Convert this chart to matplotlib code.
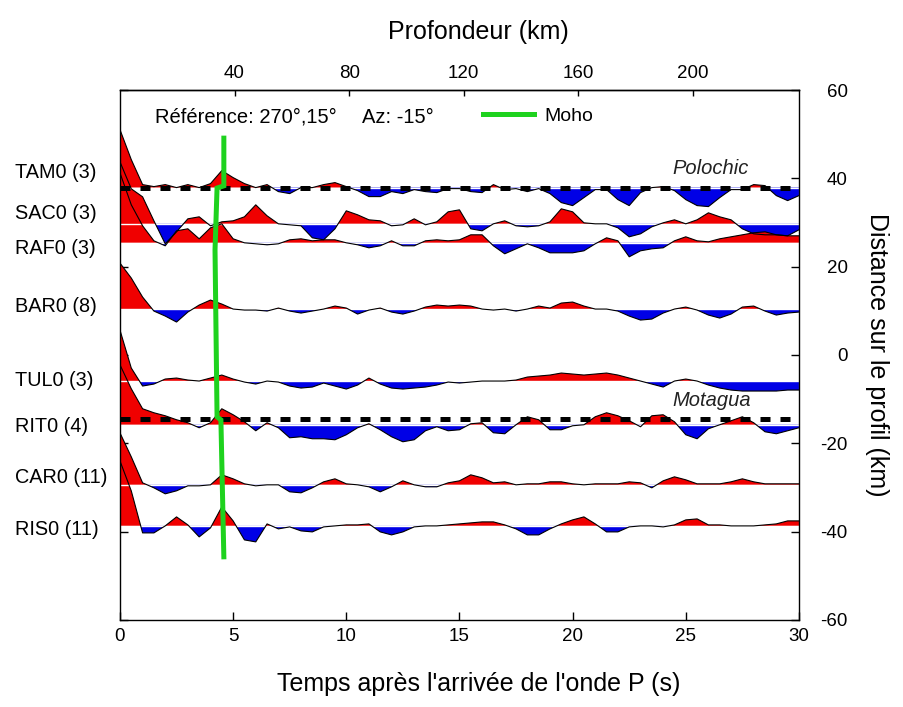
import numpy as np
import matplotlib
matplotlib.use("Agg")
import matplotlib.pyplot as plt
from matplotlib.lines import Line2D
from matplotlib.transforms import blended_transform_factory

plt.rcParams['font.family'] = ['Liberation Sans', 'DejaVu Sans']
plt.rcParams['axes.unicode_minus'] = False

# ---------------------------------------------------------------- data
time_step = 0.5          # s between amplitude samples
depth_per_second = 7.9   # km of depth per second of delay (top axis)

stations = ["TAM0 (3)", "SAC0 (3)", "RAF0 (3)", "BAR0 (8)",
            "TUL0 (3)", "RIT0 (4)", "CAR0 (11)", "RIS0 (11)"]
# position of each station along the profile (km)
baselines = [37.9, 29.7, 25.4, 10.4, -5.9, -15.8, -29.4, -38.7]

# stacked receiver-function amplitudes (arbitrary units), 0 to 30 s
tam0 = [58, 28, 3, 1, 3, 0, 3, 0, 4, 17,
        10, 4, 0, 3, -4, -6, 0, 0, 3, 5,
        1, -3, -9, -9, -4, -6, -2, -4, -5, -1,
        -1, -4, -5, 3, -2, -1, -4, -1, -6, -15,
        -18, -10, -2, -2, -12, -18, -5, 0, 1, -3,
        -12, -18, -19, -10, -2, -2, 3, 2, -8, -13,
        -8]
sac0 = [62, 35, 27, 3, -20, -8, 5, 7, -2, 2,
        3, 7, 19, 8, 0, -1, -2, -14, -16, -5,
        13, 9, 4, 3, -2, -1, 5, -1, 2, 12,
        14, -5, -7, 0, 3, -2, -3, -2, 2, 15,
        12, 1, 0, 0, -4, -13, -10, -3, 1, 4,
        0, 4, 11, 7, 4, -5, -10, -11, -11, -12,
        -6]
raf0 = [70, 38, 17, 2, -3, 12, 14, 4, 15, 19,
        4, 0, -1, -2, -1, 3, 4, 2, 3, 3,
        0, -2, -5, -3, 2, -3, -3, 2, 3, 2,
        3, 8, 8, -3, -11, -6, -1, -5, -10, -10,
        -10, -8, -1, 5, 2, -14, -8, -6, -5, 2,
        6, 2, 1, 4, 6, 8, 10, 11, 8, 7,
        7]
bar0 = [46, 31, 12, -2, -7, -13, -3, 4, 9, 5,
        0, -1, -1, -2, 1, -2, -4, -2, 0, 3,
        1, -5, -1, 1, -3, -5, -2, 2, 4, 3,
        4, 3, 0, -1, 0, -2, 0, 3, 1, 6,
        7, 3, 0, 0, -2, -7, -11, -10, -4, 0,
        2, -1, -6, -9, -5, 2, 3, -2, -6, -4,
        -3]
tul0 = [51, 13, -5, -3, 2, 3, 1, 0, 3, 6,
        2, -1, -3, 0, -1, -5, -7, -6, -2, -5,
        -8, -4, 3, -3, -7, -8, -7, -6, -4, -1,
        -2, -1, 0, 0, 0, 1, 4, 5, 6, 8,
        7, 6, 7, 8, 6, 3, 0, -3, -6, 0,
        2, 0, -4, -7, -9, -10, -10, -10, -10, -9,
        -9]
rit0 = [60, 36, 16, 12, 9, 5, 2, -3, 2, 16,
        10, 3, -6, 2, -3, -13, -12, -14, -14, -15,
        -10, -3, 1, -5, -12, -17, -15, -6, -2, -6,
        -5, 1, 2, -8, -9, 0, 8, 5, -5, -5,
        -1, 0, 8, 12, 9, 4, -2, 9, 10, 3,
        -10, -14, -4, 0, 4, 8, 2, -7, -9, -6,
        -3]
car0 = [52, 28, 2, -3, -9, -6, -1, -1, 0, 10,
        6, 1, -1, 0, 0, -7, -8, -3, 3, 6,
        1, 0, -2, -7, -2, 4, 0, -2, -2, 2,
        4, 10, 7, 2, 3, 0, 1, 1, 3, 3,
        1, 0, 1, 1, 1, 3, 2, -3, 4, 8,
        5, 1, 1, 1, 3, 6, 3, 1, 1, 1,
        1]
ris0 = [65, 35, -7, -7, 0, 9, 1, -11, -2, 19,
        5, -14, -16, 2, -3, -1, -5, -6, -1, 0,
        1, 1, 2, -6, -9, -6, -1, 0, 0, 1,
        2, 3, 4, 4, 1, -3, -9, -9, -3, 2,
        6, 9, 2, -6, -6, -1, 0, 0, -1, 1,
        6, 7, 1, 1, 0, 0, 0, 1, 2, 5,
        5]
traces = [tam0, sac0, raf0, bar0, tul0, rit0, car0, ris0]

# faults crossed by the profile (km along profile)
fault_names = ["Polochic", "Motagua"]
fault_dist = [37.9, -14.6]

# Moho conversion picked across the section
moho_time = [4.59, 4.59, 4.29, 4.20, 4.29, 4.46, 4.59]
moho_dist = [49.1, 38.3, 37.8, 23.8, -14.0, -14.7, -45.7]

x_ticks = [0, 5, 10, 15, 20, 25, 30]
y_ticks = [60, 40, 20, 0, -20, -40, -60]
depth_ticks = [40, 80, 120, 160, 200]

# ---------------------------------------------------------------- style
amp_gain = 1 / 4.417           # amplitude units -> km on the profile axis
red, blue = "#f00000", "#0000e6"
moho_green = "#1ed21e"
label_shift = [3.4, 2.4, -1.2, 0.5, 0.2, -0.5, 1.6, -0.9]

fig = plt.figure(figsize=(9.04, 7.07), dpi=100)
ax = fig.add_axes([0.1327, 0.1231, 0.7511, 0.7496])
ax.set_axisbelow(True)
ax.set_xlim(0, 30)
ax.set_ylim(-60, 60)

for amp in traces:
    assert len(amp) == 61

# coloured lobes first, then baselines, then wiggles
curves = []
for base, amp in zip(baselines, traces):
    t = np.arange(len(amp)) * time_step
    y = base + np.asarray(amp, float) * amp_gain
    ax.fill_between(t, base, y, where=y >= base, interpolate=True,
                    color=red, lw=0, zorder=1)
    ax.fill_between(t, base, y, where=y <= base, interpolate=True,
                    color=blue, lw=0, zorder=1)
    curves.append((t, y))
for base in baselines:
    ax.axhline(base, color="white", lw=1.0, zorder=2)
for t, y in curves:
    ax.plot(t, y, color="black", lw=0.8, zorder=3)

# fault markers
for name, d in zip(fault_names, fault_dist):
    ax.axhline(d, color="black", lw=3.6, dashes=(2.0, 2.0), zorder=4)
    ax.text(24.4, d + 4.4, name, fontsize=14.5, style="italic",
            color="#222222", ha="left", va="center", zorder=5)

# Moho trace
ax.plot(moho_time, moho_dist, color=moho_green, lw=3.6,
        solid_joinstyle="miter", zorder=6)
moho_handle = Line2D([], [], color=moho_green, lw=3.6)
ax.legend([moho_handle], ["Moho"], loc="center left",
          bbox_to_anchor=(0.535, 0.951), frameon=False, fontsize=14,
          handlelength=2.6, handletextpad=0.55, borderpad=0,
          borderaxespad=0)

ax.text(0.0515, 0.949, "Référence: 270°,15°", transform=ax.transAxes,
        fontsize=14.5, ha="left", va="center")
ax.text(0.356, 0.949, "Az: -15°", transform=ax.transAxes,
        fontsize=14.5, ha="left", va="center")

# station names to the left of the frame
lab_tr = blended_transform_factory(fig.transFigure, ax.transData)
for name, base, dy in zip(stations, baselines, label_shift):
    ax.text(0.0166, base + dy, name, transform=lab_tr, fontsize=14.3,
            ha="left", va="center", clip_on=False)

# axes, ticks and labels
for sp in ax.spines.values():
    sp.set_linewidth(1.0)
ax.set_xticks(x_ticks)
ax.set_yticks(y_ticks)
ax.tick_params(axis="x", direction="in", length=6, width=1.0,
               labelsize=13.5, pad=6, top=False)
ax.tick_params(axis="y", direction="in", length=6, width=1.0,
               labelsize=13.5, left=True, right=True,
               labelleft=False, labelright=True, pad=35)
for tk in ax.yaxis.get_major_ticks():
    tk.label2.set_horizontalalignment("right")

ax.set_xlabel("Temps après l'arrivée de l'onde P (s)", fontsize=18,
              va="center")
ax.xaxis.set_label_coords(0.528, -0.1208)
ax.yaxis.set_label_position("right")
ax.set_ylabel("Distance sur le profil (km)", fontsize=18, rotation=270,
              va="center", ha="center")
ax.yaxis.set_label_coords(1.115, 0.5)

secax = ax.secondary_xaxis(
    "top", functions=(lambda s: s * depth_per_second,
                      lambda d: d / depth_per_second))
secax.set_xticks(depth_ticks)
secax.tick_params(direction="in", length=4, width=1.0, labelsize=13.5,
                  pad=6)
secax.spines["top"].set_linewidth(1.0)
secax.set_xlabel("Profondeur (km)", fontsize=18, va="center")
secax.xaxis.set_label_coords(0.528, 1.1094, transform=ax.transAxes)

fig.savefig("out.png", dpi=100)
